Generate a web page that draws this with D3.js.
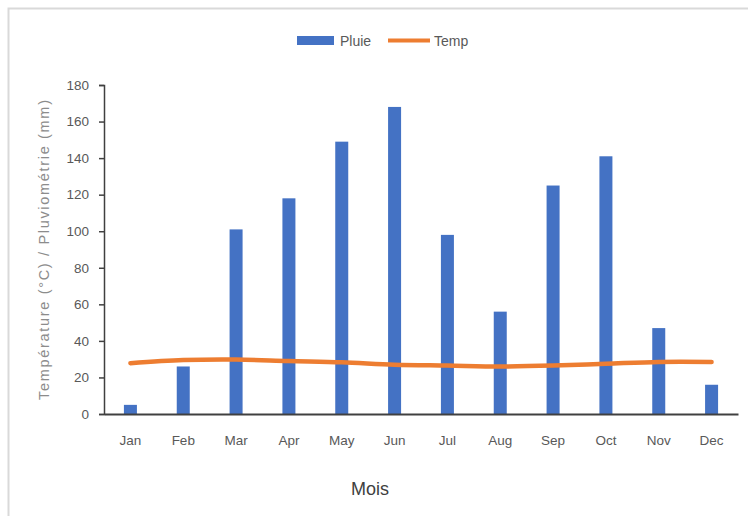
<!DOCTYPE html>
<html><head><meta charset="utf-8">
<script src="https://cdn.jsdelivr.net/npm/d3@7"></script>
<style>
body{margin:0;background:#fff;}
text{font-family:"Liberation Sans",Arial,sans-serif;}
</style></head>
<body><svg id="c" width="748" height="516"></svg>
<script>
const months = ["Jan","Feb","Mar","Apr","May","Jun","Jul","Aug","Sep","Oct","Nov","Dec"];
const pluie = [5,26,101,118,149,168,98,56,125,141,47,16];
const temp = [27.8,29.5,29.8,29,28.3,27,26.5,26,26.5,27.5,28.5,28.5];
const yTicks = [0,20,40,60,80,100,120,140,160,180];

const svg = d3.select("#c");
svg.append("rect").attr("x",8.5).attr("y",8.5).attr("width",760).attr("height",540)
  .attr("fill","#fff").attr("stroke","#d9d9d9").attr("stroke-width",2);

const L=104, R=738, T=85, B=414;
const x = d3.scaleBand().domain(months).range([L,R]);
const y = d3.scaleLinear().domain([0,180]).range([B,T]);

// y axis
const ya = svg.append("g").attr("transform",`translate(${L},0)`)
  .call(d3.axisLeft(y).tickValues(yTicks).tickSize(5).tickPadding(10));
ya.select(".domain").attr("stroke","#404040").attr("stroke-width",1.5);
ya.selectAll(".tick line").attr("stroke","#404040").attr("stroke-width",1.5);
ya.selectAll(".tick text").attr("fill","#595959").style("font-size","13.5px");

// bars
const bw = 13;
svg.append("g").selectAll("rect").data(pluie).join("rect")
  .attr("x",(d,i)=>x(months[i])+x.bandwidth()/2-bw/2)
  .attr("y",d=>y(d)).attr("width",bw).attr("height",d=>B-y(d))
  .attr("fill","#4472c4");

// x axis
const xa = svg.append("g").attr("transform",`translate(0,${B})`)
  .call(d3.axisBottom(x).tickSize(0).tickPadding(21));
xa.select(".domain").attr("stroke","#404040").attr("stroke-width",2);
xa.selectAll(".tick text").attr("fill","#595959").style("font-size","13.5px");

// line
const line = d3.line().x((d,i)=>x(months[i])+x.bandwidth()/2).y(d=>y(d)).curve(d3.curveCatmullRom);
svg.append("path").datum(temp).attr("d",line).attr("fill","none")
  .attr("stroke","#ed7d31").attr("stroke-width",4.5).attr("stroke-linecap","round");

// y label
svg.append("text").attr("transform","translate(49,250) rotate(-90)")
  .attr("text-anchor","middle").attr("fill","#8c8c8c").style("font-size","14.5px")
  .attr("textLength",300).attr("lengthAdjust","spacing")
  .text("Température (°C) / Pluviométrie (mm)");

// x label
svg.append("text").attr("x",370).attr("y",495).attr("text-anchor","middle")
  .attr("fill","#404040").style("font-size","18px").text("Mois");

// legend
const lg = svg.append("g");
lg.append("rect").attr("x",297).attr("y",36).attr("width",37).attr("height",9).attr("fill","#4472c4");
lg.append("text").attr("x",340).attr("y",46).attr("fill","#595959").style("font-size","14px").text("Pluie");
lg.append("line").attr("x1",388).attr("x2",430).attr("y1",40.5).attr("y2",40.5)
  .attr("stroke","#ed7d31").attr("stroke-width",4);
lg.append("text").attr("x",434).attr("y",46).attr("fill","#595959").style("font-size","14px").text("Temp");
</script></body></html>
